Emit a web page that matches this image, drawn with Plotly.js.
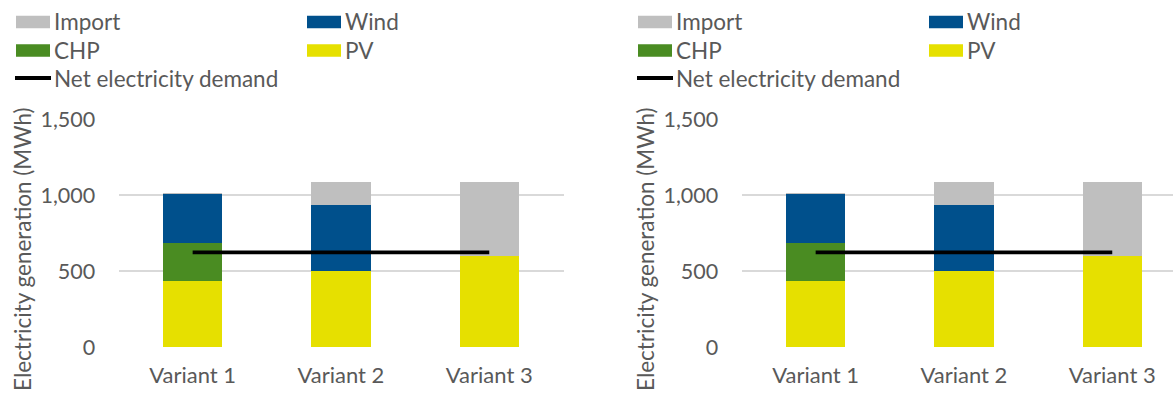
<!DOCTYPE html>
<html>
<head>
<meta charset="utf-8">
<script src="https://cdn.plot.ly/plotly-3.0.1.min.js"></script>
<style>
  html, body { margin: 0; padding: 0; background: #fff; }
  #chart { width: 1173px; height: 394px; }
</style>
</head>
<body>
<div id="chart"></div>
<script>
// Electricity generation mix per variant (MWh), stacked bottom to top: PV, CHP, Wind, Import
const categories = ['Variant 1', 'Variant 2', 'Variant 3'];
const pv = [433, 497, 596];
const chp = [249, 0, 0];
const wind = [325, 435, 0];
const importGrid = [3, 154, 487];
const netDemand = [622, 622, 622];
const yTickValues = [0, 500, 1000, 1500];
const yTitle = 'Electricity generation (MWh)';

const W = 1173, H = 394;
const TEXT = '#595959';
const FONT = 'Lato, "Open Sans", sans-serif';

const series = [
  { name: 'PV', values: pv, color: '#E6E000' },
  { name: 'CHP', values: chp, color: '#4A8C22' },
  { name: 'Wind', values: wind, color: '#00508C' },
  { name: 'Import', values: importGrid, color: '#BFBFBF' }
];
const demandSeries = { name: 'Net electricity demand', values: netDemand, color: '#000000' };

// legend layout: [name, column, row]
const legendOrder = [['Import', 0, 0], ['Wind', 1, 0], ['CHP', 0, 1], ['PV', 1, 1], ['Net electricity demand', 0, 2]];

// pixel helpers (top-left origin) -> paper coordinates
const px = v => v / W;
const py = v => (H - v) / H;

const plotTop = 119, plotBottom = 347;
const unitPx = 148.3;
const panels = [
  { left: 118.5, right: 563.5, xa: 'x', ya: 'y', legendX: 16, titleX: 22 },
  { left: 741.5, right: 1173, xa: 'x2', ya: 'y2', legendX: 638, titleX: 645 }
];

const traces = [];
const shapes = [];
const annotations = [];
const layout = {
  width: W, height: H,
  margin: { l: 0, r: 0, t: 0, b: 0 },
  paper_bgcolor: '#fff', plot_bgcolor: '#fff',
  barmode: 'stack', bargap: 0.6,
  showlegend: false,
  font: { family: FONT, size: 21, color: TEXT }
};

panels.forEach((p, i) => {
  series.forEach(s => {
    traces.push({
      type: 'bar', name: s.name, x: categories, y: s.values,
      xaxis: p.xa, yaxis: p.ya,
      marker: { color: s.color, line: { width: 0 } },
      width: 0.4, hoverinfo: 'skip'
    });
  });
  traces.push({
    type: 'scatter', mode: 'lines', name: demandSeries.name,
    x: categories, y: demandSeries.values,
    xaxis: p.xa, yaxis: p.ya,
    line: { color: demandSeries.color, width: 3.8 },
    hoverinfo: 'skip'
  });

  const sfx = i === 0 ? '' : '2';
  const rangeMax = -0.5 + (p.right - p.left) / unitPx;
  layout['xaxis' + sfx] = {
    domain: [px(p.left), px(p.right)],
    anchor: 'y' + sfx,
    type: 'category',
    range: [-0.5, rangeMax],
    showgrid: false, zeroline: false, showline: false,
    ticks: 'outside', ticklen: 9, tickcolor: 'rgba(0,0,0,0)',
    tickfont: { family: FONT, size: 22, color: TEXT },
    fixedrange: true
  };
  layout['yaxis' + sfx] = {
    domain: [py(plotBottom), py(plotTop)],
    anchor: 'x' + sfx,
    range: [0, 1500],
    tickvals: yTickValues,
    tickformat: ',',
    showgrid: true, gridcolor: '#D9D9D9', gridwidth: 1.3,
    zeroline: false, showline: false,
    ticks: 'outside', ticklen: 18, tickcolor: 'rgba(0,0,0,0)',
    tickfont: { family: FONT, size: 21.5, color: TEXT },
    fixedrange: true
  };

  // axis title, running upward from the bottom edge
  annotations.push({
    xref: 'paper', yref: 'paper',
    x: px(p.titleX), y: py(393),
    xanchor: 'center', yanchor: 'bottom',
    text: yTitle, textangle: -90, showarrow: false,
    font: { family: FONT, size: 22.5, color: TEXT }
  });

  // legend block
  const rowY = [22, 50.5, 78];
  legendOrder.forEach(([name, col, row]) => {
    const x0 = p.legendX + col * 291;
    const yc = rowY[row];
    if (name === demandSeries.name) {
      shapes.push({
        type: 'line', xref: 'paper', yref: 'paper',
        x0: px(x0 - 1), x1: px(x0 + 35), y0: py(yc), y1: py(yc),
        line: { color: demandSeries.color, width: 3.8 }
      });
    } else {
      const s = series.find(t => t.name === name);
      shapes.push({
        type: 'rect', xref: 'paper', yref: 'paper',
        x0: px(x0), x1: px(x0 + 34), y0: py(yc - 6.3), y1: py(yc + 6.3),
        fillcolor: s.color, line: { width: 0 }
      });
    }
    annotations.push({
      xref: 'paper', yref: 'paper',
      x: px(x0 + 36), y: py(yc),
      xanchor: 'left', yanchor: 'middle',
      text: name, showarrow: false,
      font: { family: FONT, size: 22.5, color: TEXT }
    });
  });
});

layout.shapes = shapes;
layout.annotations = annotations;

Plotly.newPlot('chart', traces, layout, { displayModeBar: false, staticPlot: true });
</script>
</body>
</html>
